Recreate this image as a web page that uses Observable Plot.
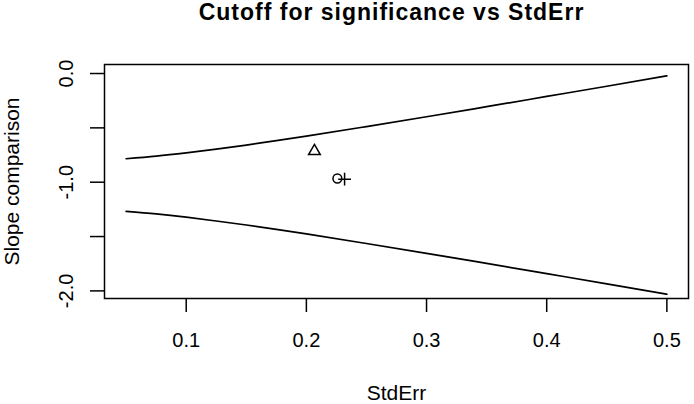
<!DOCTYPE html>
<html>
<head>
<meta charset="utf-8">
<script src="https://cdn.jsdelivr.net/npm/d3@7"></script>
<script src="https://cdn.jsdelivr.net/npm/@observablehq/plot@0.6"></script>
<style>
  body { margin: 0; background: #fff; font-family: "Liberation Sans", Arial, Helvetica, sans-serif; }
  #title {
    width: 694px; height: 34px; box-sizing: border-box;
    padding-left: 89px; text-align: center;
    font-size: 23px; line-height: 25px; font-weight: bold; letter-spacing: 1px; color: #000;
  }
  #chart svg { display: block; }
</style>
</head>
<body>
<div id="title">Cutoff for significance vs StdErr</div>
<div id="chart"></div>
<script>
// Cutoff curves
const stdErr      = [0.05, 0.075, 0.1, 0.125, 0.15, 0.175, 0.2, 0.25, 0.3, 0.35, 0.4, 0.45, 0.5];
const upperCutoff = [-0.784, -0.760, -0.730, -0.696, -0.658, -0.618, -0.576, -0.488, -0.398, -0.305, -0.211, -0.117, -0.021];
const lowerCutoff = [-1.268, -1.292, -1.322, -1.357, -1.394, -1.434, -1.476, -1.564, -1.654, -1.747, -1.841, -1.935, -2.031];

// Observed points
const pointStdErr = [0.2067, 0.2258, 0.2318];
const pointSlope  = [-0.715, -0.966, -0.972];
const pointShape  = ["triangle", "circle", "plus"];

// Axes
const xTicks = [0.1, 0.2, 0.3, 0.4, 0.5];
const yTicks = [0, -0.5, -1, -1.5, -2];
const yLabelValues = [0, -1, -2];
const yLabelTexts  = ["0.0", "-1.0", "-2.0"];
const xTitle = "StdErr";
const yTitle = "Slope comparison";

const upperData = stdErr.map((s, i) => ({se: s, slope: upperCutoff[i]}));
const lowerData = stdErr.map((s, i) => ({se: s, slope: lowerCutoff[i]}));
const points = pointStdErr.map((s, i) => ({se: s, slope: pointSlope[i], shape: pointShape[i]}));
const ofShape = (k) => points.filter(p => p.shape === k);

const ink = "#000";
const chart = Plot.plot({
  width: 694,
  height: 370,
  marginTop: 30,
  marginBottom: 106,
  marginLeft: 104,
  marginRight: 6,
  x: {domain: [0.032, 0.518]},
  y: {domain: [-2.07, 0.083]},
  style: {fontFamily: "'Liberation Sans', Arial, Helvetica, sans-serif", fontSize: "20px", color: ink, background: "#fff"},
  marks: [
    Plot.line(upperData, {x: "se", y: "slope", curve: "monotone-x", stroke: ink, strokeWidth: 1.7}),
    Plot.line(lowerData, {x: "se", y: "slope", curve: "monotone-x", stroke: ink, strokeWidth: 1.7}),
    Plot.dot(ofShape("triangle"), {x: "se", y: "slope", symbol: "triangle", r: 4.35, stroke: ink, fill: "none", strokeWidth: 1.5}),
    Plot.dot(ofShape("circle"), {x: "se", y: "slope", symbol: "circle", r: 4.4, stroke: ink, fill: "none", strokeWidth: 1.5}),
    Plot.dot(ofShape("plus"), {x: "se", y: "slope", symbol: "plus", r: 4.2, stroke: ink, fill: "none", strokeWidth: 1.5}),
    Plot.frame({stroke: ink, strokeWidth: 1.5}),
    Plot.axisX({ticks: xTicks, tickSize: 14, tickPadding: 20, tickFormat: d3.format(".1f"), label: null, fontSize: 20, strokeWidth: 1.5}),
    Plot.axisY({ticks: yTicks, tickSize: 14, tickFormat: () => "", label: null, strokeWidth: 1.5}),
    Plot.text(yLabelValues, {y: d => d, text: (d, i) => yLabelTexts[i], frameAnchor: "left", dx: -32, rotate: -90, textAnchor: "middle", lineAnchor: "bottom", fontSize: 20, fill: ink}),
    Plot.text([yTitle], {text: d => d, frameAnchor: "left", dx: -86, rotate: -90, textAnchor: "middle", lineAnchor: "bottom", fontSize: 21, fill: ink}),
    Plot.text([xTitle], {text: d => d, frameAnchor: "bottom", dy: 101, lineAnchor: "bottom", fontSize: 21, fill: ink})
  ]
});
document.getElementById("chart").appendChild(chart);
</script>
</body>
</html>
